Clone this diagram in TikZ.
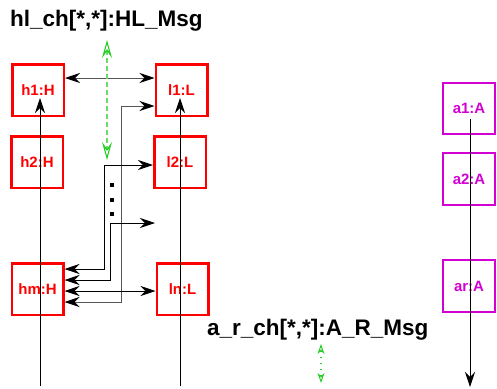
\documentclass[tikz,border=0pt]{standalone}
\usepackage{fontspec}
\setmainfont{Liberation Sans}
\usetikzlibrary{arrows.meta}
\definecolor{boxred}{RGB}{255,0,0}
\definecolor{boxmag}{RGB}{210,0,210}
\definecolor{chgreen}{RGB}{40,205,40}
\definecolor{wiregray}{RGB}{85,85,85}
\begin{document}
\begin{tikzpicture}[x=1pt,y=-1pt,
  hbox/.style={draw=boxred, line width=2.5pt, minimum width=51.5pt, minimum height=51.5pt,
    inner sep=0pt, text=boxred, font=\bfseries\fontsize{15}{17}\selectfont},
  abox/.style={draw=boxmag, line width=2pt, minimum width=52pt, minimum height=51.5pt,
    inner sep=0pt, text=boxmag, font=\bfseries\fontsize{15}{17}\selectfont},
  msg/.style={line width=0.9pt, {Stealth[length=15pt,width=10pt,inset=5pt,color=black]}-{Stealth[length=15pt,width=10pt,inset=5pt,color=black]}},
  life/.style={line width=0.9pt, -{Stealth[length=15pt,width=10pt,inset=5pt]}},
  chan/.style={font=\bfseries\fontsize{22.5}{26}\selectfont, anchor=base west, inner sep=0pt},
  dots/.style={fill=black, minimum size=3.5pt, inner sep=0pt}
]
\useasboundingbox (0,0) rectangle (497,388);

% channel labels
\node[chan] (lblhl) at (10,26) {hl\_ch[*,*]:HL\_Msg};
\node[chan] (lblar) at (207,335) {a\_r\_ch[*,*]:A\_R\_Msg};

% boxes
\node[hbox] (h1) at (38,90) {h1:H};
\node[hbox] (h2) at (37,162) {h2:H};
\node[hbox] (hm) at (37.5,289) {hm:H};
\node[hbox] (l1) at (181.5,90) {l1:L};
\node[hbox] (l2) at (180,162) {l2:L};
\node[hbox] (ln) at (182.5,289) {ln:L};
\node[abox] (a1) at (469,108.5) {a1:A};
\node[abox] (a2) at (469,179) {a2:A};
\node[abox] (ar) at (469,286) {ar:A};

% lifelines
\coordinate (hbot) at (40,386);
\coordinate (htop) at (40,98);
\coordinate (lbot) at (180,386);
\coordinate (ltop) at (180,98);
\coordinate (atop) at (470,119);
\coordinate (abot) at (470,387);
\draw[life] (hbot) -- (htop);
\draw[life] (lbot) -- (ltop);
\draw[life] (atop) -- (abot);

% messages
\coordinate (y78) at (0,78);
\draw[msg, wiregray] (h1.east |- y78) -- (l1.west |- y78);

\coordinate (r1) at (121,106);
\coordinate (s1) at (121,302);
\draw[msg, wiregray] (hm.east |- s1) -- (s1) -- (r1) -- (l1.west |- r1);

\coordinate (r2) at (104,165);
\coordinate (s2) at (104,269);
\draw[msg] (hm.east |- s2) -- (s2) -- (r2) -- (l2.west |- r2);

\coordinate (r3) at (110,223);
\coordinate (s3) at (110,280);
\coordinate (t3) at (155,223);
\draw[msg] (hm.east |- s3) -- (s3) -- (r3) -- (t3);

\coordinate (y291) at (0,291);
\draw[msg] (hm.east |- y291) -- (ln.west |- y291);

% dots
\node[dots] (d1) at (112,185) {};
\node[dots] (d2) at (112,200) {};
\node[dots] (d3) at (112,214) {};

% channel arrows
\coordinate (g1) at (107,40);
\coordinate (g2) at (107,160);
\draw[chgreen!70, line width=1.5pt, dash pattern=on 5pt off 3pt,
  {Stealth[open,length=18pt,width=10pt,inset=7pt,fill=white,line width=1.1pt,color=chgreen]}-{Stealth[open,length=18pt,width=10pt,inset=7pt,fill=white,line width=1.1pt,color=chgreen]}]
  (g1) -- (g2);
\coordinate (g3) at (321,344);
\coordinate (g4) at (321,383);
\draw[chgreen, line width=1.1pt, dash pattern=on 1pt off 5pt,
  {Stealth[open,length=10pt,width=7pt,inset=3pt,fill=white,line width=1pt]}-{Stealth[open,length=10pt,width=7pt,inset=3pt,fill=white,line width=1pt]}]
  (g3) -- (g4);
\end{tikzpicture}
\end{document}
